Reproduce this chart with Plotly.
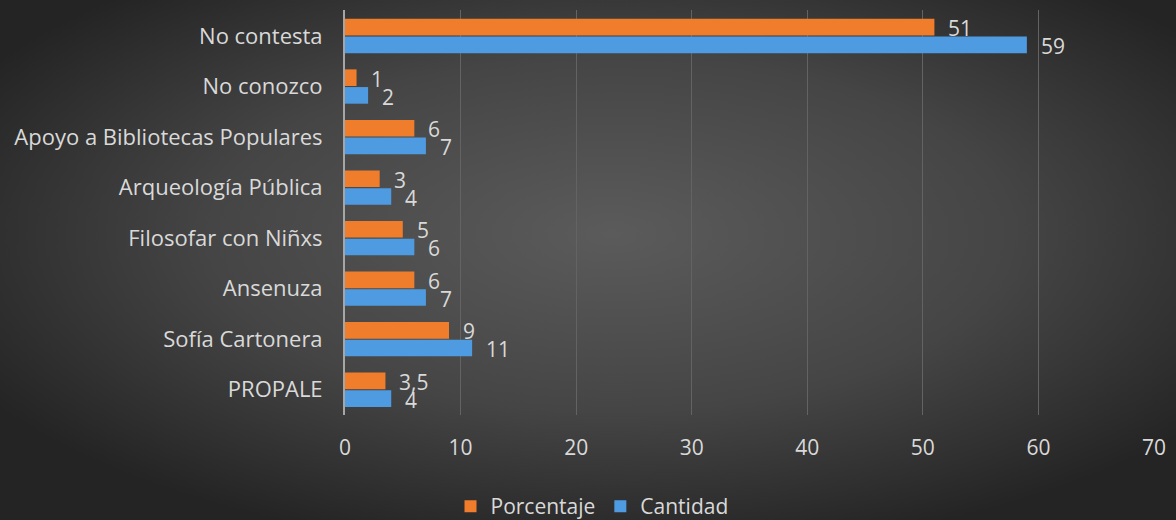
import base64
import plotly.graph_objects as go

categories = ["No contesta", "No conozco", "Apoyo a Bibliotecas Populares", "Arqueología Pública",
              "Filosofar con Niñxs", "Ansenuza", "Sofía Cartonera", "PROPALE"]
porcentaje = [51, 1, 6, 3, 5, 6, 9, 3.5]
cantidad = [59, 2, 7, 4, 6, 7, 11, 4]
porcentaje_labels = ["51", "1", "6", "3", "5", "6", "9", "3,5"]
cantidad_labels = ["59", "2", "7", "4", "6", "7", "11", "4"]
x_ticks = [0, 10, 20, 30, 40, 50, 60, 70]

W, H = 1176, 520
ML, MR, MT, MB = 345, 22, 10, 105
PW, PH = W - ML - MR, H - MT - MB

FONT = "Open Sans"
FS = 21
TXT = "#d9d9d9"
ORANGE = "#F07D2C"
BLUE = "#4E9BE2"

svg = (f"<svg xmlns='http://www.w3.org/2000/svg' width='{W}' height='{H}' preserveAspectRatio='none'>"
       "<defs><radialGradient id='g' cx='52%' cy='45%' r='62%'>"
       "<stop offset='0' stop-color='#5b5b5b'/><stop offset='0.55' stop-color='#454545'/>"
       "<stop offset='1' stop-color='#242424'/></radialGradient></defs>"
       f"<rect width='{W}' height='{H}' fill='url(#g)'/></svg>")
src = "data:image/svg+xml;base64," + base64.b64encode(svg.encode()).decode()

fig = go.Figure()
fig.add_trace(go.Bar(
    name="Porcentaje", y=categories, x=porcentaje, orientation="h",
    marker=dict(color=ORANGE, line=dict(width=0)),
))
fig.add_trace(go.Bar(
    name="Cantidad", y=categories, x=cantidad, orientation="h",
    marker=dict(color=BLUE, line=dict(width=0)),
))

annotations = []
for cat, v, lab in zip(categories, porcentaje, porcentaje_labels):
    annotations.append(dict(x=v, y=cat, xref="x", yref="y", text=lab, showarrow=False,
                            xanchor="left", yanchor="middle", xshift=12, yshift=8,
                            font=dict(family=FONT, size=FS, color=TXT)))
for cat, v, lab in zip(categories, cantidad, cantidad_labels):
    annotations.append(dict(x=v, y=cat, xref="x", yref="y", text=lab, showarrow=False,
                            xanchor="left", yanchor="middle", xshift=12, yshift=-10,
                            font=dict(family=FONT, size=FS, color=TXT)))

fig.update_layout(
    width=W, height=H,
    margin=dict(l=ML, r=MR, t=MT, b=MB, autoexpand=False),
    paper_bgcolor="#3a3a3a", plot_bgcolor="rgba(0,0,0,0)",
    separators=",.",
    barmode="group", bargap=0.3, bargroupgap=0.06,
    font=dict(family=FONT, size=FS, color=TXT),
    showlegend=True,
    legend=dict(orientation="h", x=(592 - ML) / PW, xanchor="center",
                y=-(500 - MT - PH - 14) / PH, yanchor="top", bgcolor="rgba(0,0,0,0)",
                font=dict(family=FONT, size=FS, color=TXT),
                itemwidth=30, traceorder="normal"),
    annotations=annotations,
    images=[dict(source=src, xref="paper", yref="paper", x=-ML / PW, y=1 + MT / PH,
                 sizex=W / PW, sizey=H / PH, xanchor="left", yanchor="top",
                 sizing="stretch", layer="below")],
)
fig.update_xaxes(range=[0, 70], tickvals=x_ticks, showgrid=True, gridcolor="#636363", gridwidth=1,
                 zeroline=False, showline=False, ticks="", ticklabelstandoff=18,
                 tickfont=dict(family=FONT, size=FS, color=TXT))
fig.update_yaxes(categoryorder="array", categoryarray=categories, autorange="reversed",
                 showline=True, linecolor="#a6a6a6", linewidth=2, showgrid=False, ticks="",
                 ticklabelstandoff=16, tickfont=dict(family=FONT, size=22, color=TXT))

fig.write_html("out.html", config={"displayModeBar": False},
               post_script="document.body.style.margin='0';")
